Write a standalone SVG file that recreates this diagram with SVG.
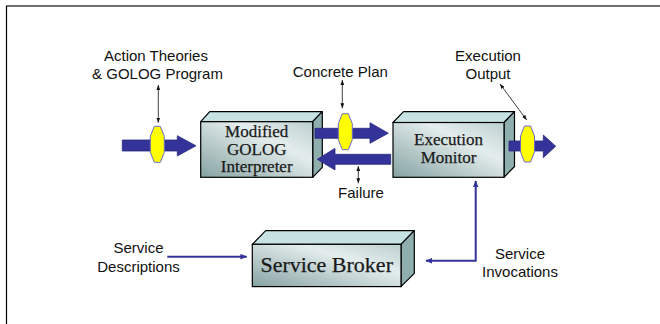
<svg xmlns="http://www.w3.org/2000/svg" width="660" height="324" viewBox="0 0 660 324">
<style>
.lbl{font-family:"Liberation Sans",Arial,sans-serif;font-size:15px;fill:#111;text-anchor:middle}
.box{font-family:"Liberation Serif","Times New Roman",serif;fill:#1a1a1a;text-anchor:middle;stroke:#1a1a1a;stroke-width:0.25}
.front{fill:url(#gFront);stroke:#000;stroke-width:1.2}
.top{fill:#c6e2e2;stroke:#000;stroke-width:1.2;stroke-linejoin:round}
.side{fill:#8faeae;stroke:#000;stroke-width:1.2;stroke-linejoin:round}
.barrow{fill:#333399;stroke:#2a2a80;stroke-width:0.8}
.hex{fill:#ffff00;stroke:#6b6bc8;stroke-width:1}
.thin{stroke:#111;stroke-width:0.8;fill:none;marker-end:url(#tip);marker-start:url(#tip)}
.blue{stroke:#333399;stroke-width:2;fill:none}
</style>
<defs>
<linearGradient id="gFront" x1="0" y1="1" x2="1" y2="0">
<stop offset="0" stop-color="#86a2a2"/>
<stop offset="0.65" stop-color="#e4eded"/>
<stop offset="1" stop-color="#bccfcf"/>
</linearGradient>
<marker id="tip" viewBox="0 0 8 6" refX="8" refY="3" markerWidth="5" markerHeight="4" markerUnits="userSpaceOnUse" orient="auto-start-reverse">
<path d="M0,0 L8,3 L0,6 z" fill="#111"/>
</marker>
<marker id="btip" viewBox="0 0 10 8" refX="9" refY="4" markerWidth="7" markerHeight="6" markerUnits="userSpaceOnUse" orient="auto-start-reverse">
<path d="M0,0 L10,4 L0,8 z" fill="#333399"/>
</marker>
<polygon id="hexshape" points="-3,-18 3,-18 7,-8 7,8 3,18 -3,18 -7,8 -7,-8"/>
</defs>

<rect width="660" height="324" fill="#fff"/>
<line x1="6" y1="6" x2="660" y2="6" stroke="#707070" stroke-width="2"/>
<line x1="6.5" y1="6" x2="6.5" y2="324" stroke="#000" stroke-width="1.2"/>

<g id="interpreter">
<polygon class="top" points="200.7,121.7 209.7,111.7 322.3,111.7 312.7,121.7"/>
<polygon class="side" points="312.7,121.7 322.3,111.7 322.3,167.3 312.7,177.3"/>
<rect class="front" x="200.7" y="121.7" width="112" height="55.6"/>
<text class="box" font-size="17" x="256.7" y="137">Modified</text>
<text class="box" font-size="17" x="256.7" y="154.5">GOLOG</text>
<text class="box" font-size="17" x="256.7" y="172">Interpreter</text>
</g>

<g id="monitor">
<polygon class="top" points="393,122.5 403.5,111.7 514.5,111.7 504,122.5"/>
<polygon class="side" points="504,122.5 514.5,111.7 514.5,166.5 504,177.3"/>
<rect class="front" x="393" y="122.5" width="111" height="54.8"/>
<text class="box" font-size="17" x="448.5" y="145.3">Execution</text>
<text class="box" font-size="17" x="448.5" y="163">Monitor</text>
</g>

<g id="broker">
<polygon class="top" points="252.3,244.3 265.7,230.7 414.3,230.7 401,244.3"/>
<polygon class="side" points="401,244.3 414.3,230.7 414.3,273.3 401,286.6"/>
<rect class="front" x="252.3" y="244.3" width="148.7" height="42.3"/>
<text class="box" font-size="22" x="326.7" y="271.5">Service Broker</text>
</g>

<g id="connectors">
<polygon class="barrow" points="122.3,140 177.3,140 177.3,135.7 196,145.8 177.3,156 177.3,151 122.3,151"/>
<polygon class="barrow" points="315,128.3 370,128.3 370,122.7 388.3,133.2 370,143.3 370,138.3 315,138.3"/>
<polygon class="barrow" points="390.7,154.3 335,154.3 335,148.3 317.3,159.3 335,170 335,164.3 390.7,164.3"/>
<polygon class="barrow" points="509,141 543.3,141 543.3,135 555.7,146.2 543.3,157.7 543.3,151 509,151"/>
<use href="#hexshape" class="hex" x="157.3" y="144.3"/>
<use href="#hexshape" class="hex" x="345.3" y="131.7"/>
<use href="#hexshape" class="hex" x="527.5" y="144"/>
<line class="thin" x1="158.3" y1="85" x2="158.3" y2="122.7"/>
<line class="thin" x1="342.3" y1="80" x2="342.3" y2="108.3"/>
<line class="thin" x1="358.3" y1="166" x2="358.3" y2="183.3"/>
<line class="thin" x1="500" y1="84" x2="526.7" y2="120"/>
<line class="blue" x1="167.3" y1="256.7" x2="246.7" y2="256.7" marker-end="url(#btip)"/>
<polyline class="blue" points="475.7,181 475.7,260.7 426,260.7" marker-start="url(#btip)" marker-end="url(#btip)"/>
</g>

<g id="labels">
<text class="lbl" x="156" y="61">Action Theories</text>
<text class="lbl" x="157.5" y="79">&amp; GOLOG Program</text>
<text class="lbl" x="340.3" y="77">Concrete Plan</text>
<text class="lbl" x="488" y="61">Execution</text>
<text class="lbl" x="488" y="79">Output</text>
<text class="lbl" x="361" y="197.5">Failure</text>
<text class="lbl" x="138.5" y="253">Service</text>
<text class="lbl" x="138.5" y="271.5">Descriptions</text>
<text class="lbl" x="520" y="259">Service</text>
<text class="lbl" x="520" y="277">Invocations</text>
</g>
</svg>
